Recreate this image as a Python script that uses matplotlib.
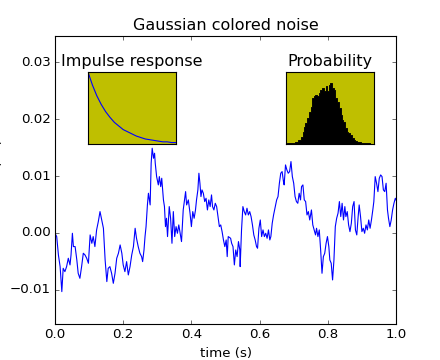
import numpy as np
import matplotlib
matplotlib.use("Agg")
import matplotlib.pyplot as plt

plt.style.use("classic")

# ---- main series (time in s, current in 1e-3 units) ----
time_s = [
    0.000, 0.005, 0.010, 0.015, 0.020, 0.024, 0.029, 0.034, 0.039, 0.044, 0.047, 0.051,
    0.054, 0.059, 0.064, 0.068, 0.073, 0.078, 0.083, 0.088, 0.093, 0.098, 0.103, 0.108,
    0.112, 0.117, 0.122, 0.127, 0.132, 0.137, 0.142, 0.147, 0.152, 0.156, 0.161, 0.166,
    0.171, 0.176, 0.181, 0.186, 0.191, 0.196, 0.200, 0.205, 0.210, 0.215, 0.220, 0.225,
    0.230, 0.235, 0.239, 0.244, 0.249,
    0.254, 0.257, 0.261, 0.264, 0.267, 0.271, 0.274, 0.279, 0.282, 0.285, 0.289, 0.292,
    0.294, 0.298, 0.303, 0.306, 0.310, 0.313, 0.318, 0.321, 0.324, 0.327, 0.330, 0.335,
    0.339, 0.343, 0.347, 0.351, 0.355, 0.359, 0.363, 0.367, 0.371, 0.376, 0.380, 0.383,
    0.386, 0.391, 0.396, 0.400, 0.404, 0.408, 0.412, 0.415, 0.419, 0.422, 0.425, 0.428,
    0.431, 0.435, 0.439, 0.443, 0.447, 0.451, 0.455, 0.459, 0.462, 0.466, 0.470, 0.474,
    0.478, 0.482, 0.486, 0.490, 0.494, 0.498, 0.502, 0.505, 0.508,
    0.515, 0.518, 0.522, 0.526, 0.530, 0.534, 0.538, 0.542, 0.543, 0.547, 0.551, 0.555,
    0.559, 0.563, 0.567, 0.571, 0.575, 0.579, 0.583, 0.587, 0.591, 0.594, 0.598, 0.602,
    0.606, 0.610, 0.614, 0.618, 0.622, 0.626, 0.630, 0.633, 0.637, 0.641, 0.645, 0.650,
    0.654, 0.658, 0.662, 0.666, 0.670, 0.672, 0.676, 0.680, 0.684, 0.688, 0.692, 0.696,
    0.700, 0.704, 0.708, 0.712, 0.716, 0.720, 0.723, 0.727, 0.731, 0.735, 0.739, 0.743,
    0.747, 0.752,
    0.756, 0.760, 0.764, 0.767, 0.771, 0.775, 0.779, 0.783, 0.787, 0.791, 0.795, 0.799,
    0.803, 0.806, 0.810, 0.814, 0.818, 0.822, 0.826, 0.830, 0.834, 0.838, 0.842, 0.846,
    0.850, 0.853, 0.857, 0.861, 0.865, 0.869, 0.873, 0.877, 0.881, 0.885, 0.889, 0.892,
    0.896, 0.900, 0.904, 0.908, 0.912, 0.916, 0.920, 0.924, 0.928, 0.932, 0.935, 0.939,
    0.943, 0.947, 0.951, 0.955, 0.959, 0.963, 0.967, 0.971, 0.975, 0.978, 0.982, 0.986,
    0.990, 0.994, 0.998, 1.000,
]
current_milli = [
    -0.06, -0.64, -3.87, -5.92, -10.31, -6.21, -6.80, -5.92, -4.45, -5.62, -3.87, -0.06,
    -2.40, -2.40, -4.75, -7.09, -7.97, -5.92, -3.57, -3.87, -4.45, -5.33, -0.35, -1.82,
    -0.64, -2.40, 0.53, 1.99, 3.75, 2.28, 0.82, -4.75, -8.55, -6.21, -5.92, -7.09,
    -8.85, -7.09, -4.45, -3.57, -2.11, -3.57, -5.62, -6.80, -5.04, -7.38, -5.92, -3.87,
    -2.40, 0.82, -0.94, -2.40, -3.57,
    -4.16, -5.04, -2.99, -0.64, 1.11, 4.92, 6.97, 4.92, 12.24, 14.88, 13.12, 14.00,
    12.24, 9.90, 8.44, 9.90, 8.14, 9.61, 5.80, 4.63, 1.11, 2.58, -0.64, 4.63,
    2.58, -1.82, 3.75, -0.64, 1.11, -0.06, 1.41, -0.06, -1.52, 4.04, 5.80, 7.26,
    4.92, 5.80, 3.46, 1.11, 3.75, 2.58, 4.04, 5.80, 7.56, 10.49, 8.73, 6.39,
    7.56, 6.97, 5.51, 6.09, 4.04, 5.80, 4.63, 6.68, 4.63, 4.04, 5.21, 4.63,
    2.87, 1.11, 1.41, 0.23, -1.23, -2.40, -1.23, -4.16, -0.64,
    -0.94, -1.82, -2.40, -5.62, -2.99, -4.16, -1.52, -2.99, -5.92, 0.53, 4.63, 3.75,
    3.16, 4.34, 3.16, 3.75, 2.87, 1.41, -0.35, -1.23, -2.40, -2.69, 0.82, 2.28,
    -0.64, 0.53, -0.64, -0.06, -0.94, 0.53, -1.23, -0.64, 1.70, 3.16, 4.34, 5.80,
    6.39, 8.73, 10.49, 10.78, 9.02, 8.44, 11.95, 11.07, 10.49, 10.78, 12.54, 9.90,
    8.73, 6.39, 5.51, 5.21, 6.97, 5.80, 8.14, 8.44, 5.80, 5.51, 3.16, 3.75,
    2.28, 4.04,
    1.41, 0.53, -0.35, 0.82, -0.64, 0.53, -2.99, -7.09, -4.16, -3.57, -1.82, -0.64,
    -2.40, -4.75, -5.33, -8.26, -4.75, 1.11, 2.58, 3.46, 5.51, 2.87, 5.21, 2.28,
    4.63, 2.87, 3.75, 1.41, 0.23, 1.70, 4.63, 5.51, 0.53, -0.35, 2.87, 4.92,
    2.87, 0.23, 0.82, -0.06, 1.41, 0.53, 2.28, 0.82, 2.28, 4.04, 5.51, 9.90,
    8.73, 7.26, 9.61, 10.19, 9.90, 7.56, 7.26, 8.73, 4.04, 2.58, 1.11, 2.28,
    4.04, 5.21, 6.09, 5.80,
]

# ---- impulse response inset ----
impulse_t = [0.00, 0.01, 0.02, 0.03, 0.04, 0.05, 0.06, 0.07, 0.08, 0.09, 0.10,
             0.11, 0.12, 0.13, 0.14, 0.15, 0.16, 0.17, 0.18, 0.19, 0.20]
impulse_r = [1.00, 0.82, 0.67, 0.55, 0.45, 0.37, 0.30, 0.25, 0.20, 0.17, 0.14,
             0.11, 0.09, 0.07, 0.06, 0.05, 0.04, 0.03, 0.03, 0.02, 0.02]

# ---- probability inset (histogram bin centres, relative density) ----
hist_centers = [0.01, 0.05, 0.08, 0.12, 0.16, 0.18, 0.20, 0.21, 0.23, 0.25, 0.27,
                0.29, 0.31, 0.33, 0.34, 0.36, 0.38, 0.40, 0.42, 0.44, 0.46, 0.48,
                0.49, 0.51, 0.53, 0.55, 0.57, 0.59, 0.61, 0.63, 0.64, 0.66, 0.68,
                0.70, 0.72, 0.74, 0.76, 0.78, 0.79, 0.83, 0.87, 0.91, 0.94, 0.98]
hist_density = [0.01, 0.02, 0.02, 0.03, 0.06, 0.10, 0.17, 0.24, 0.29, 0.36, 0.45,
                0.52, 0.64, 0.66, 0.68, 0.66, 0.71, 0.75, 0.78, 0.74, 0.80, 0.73,
                0.82, 0.85, 0.78, 0.75, 0.64, 0.59, 0.50, 0.40, 0.33, 0.31, 0.22,
                0.17, 0.15, 0.13, 0.08, 0.06, 0.04, 0.03, 0.02, 0.01, 0.01, 0.00]

fig = plt.figure(figsize=(5.5, 4.5), dpi=80, facecolor="white")
ax = fig.add_subplot(111)
ax.plot(time_s, np.array(current_milli) * 1e-3, color="b", linewidth=1.0)
ax.set_xlim(0, 1)
ax.set_ylim(-0.016, 0.0346)
ax.set_yticks([-0.01, 0.0, 0.01, 0.02, 0.03])
ax.set_xlabel("time (s)")
ax.set_ylabel("current (nA)")
ax.set_title("Gaussian colored noise")

a1 = fig.add_axes([0.65, 0.6, 0.2, 0.2], facecolor="y")
a1.fill_between(hist_centers, hist_density, 0, step="mid", color="k", linewidth=0.8)
a1.set_xlim(0, 1)
a1.set_ylim(0, 1)
a1.set_title("Probability")
a1.set_xticks([])
a1.set_yticks([])

a2 = fig.add_axes([0.2, 0.6, 0.2, 0.2], facecolor="y")
a2.plot(impulse_t, impulse_r, color="b")
a2.set_title("Impulse response")
a2.set_xlim(0, 0.2)
a2.set_ylim(0, 1)
a2.set_xticks([])
a2.set_yticks([])

fig.savefig("out.png", dpi=80, facecolor="white")
